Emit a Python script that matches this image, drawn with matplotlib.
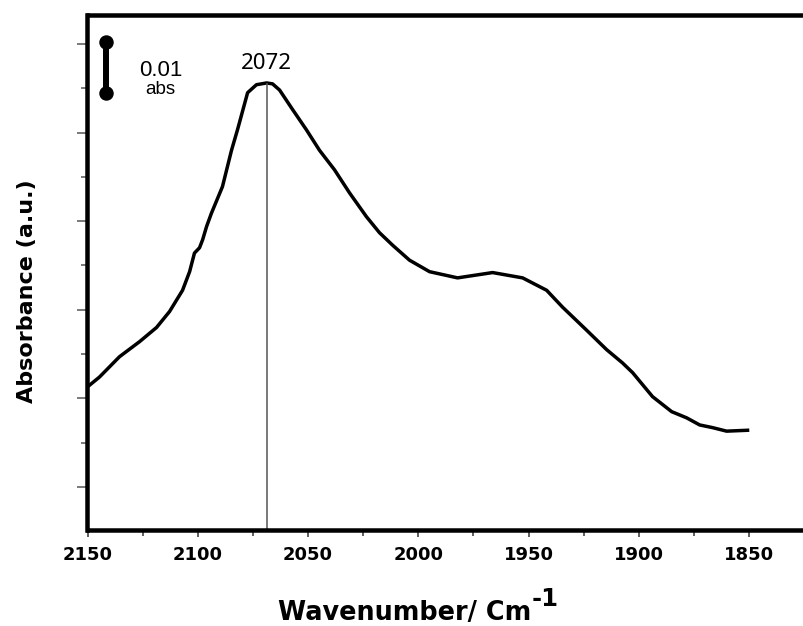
import numpy as np
import matplotlib
matplotlib.use("Agg")
import matplotlib.pyplot as plt
from matplotlib.ticker import MultipleLocator

wavenumber = [2150.0, 2144.6, 2135.5, 2126.4, 2118.7, 2112.8, 2106.9, 2103.7,
              2101.5, 2099.2, 2097.8, 2096.0, 2093.8, 2088.8, 2084.7, 2082.0,
              2077.4, 2073.4, 2068.8, 2066.1, 2062.9, 2057.0, 2050.7, 2044.8,
              2038.0, 2031.2, 2023.5, 2017.6, 2011.7, 2004.0, 1994.9, 1982.2,
              1966.3, 1952.7, 1941.8, 1934.6, 1923.7, 1914.6, 1907.4, 1902.8,
              1893.8, 1885.1, 1878.3, 1872.4, 1866.6, 1860.2, 1850.7]
absorbance = [1.13, 1.24, 1.47, 1.64, 1.80, 1.98, 2.22, 2.43,
              2.64, 2.70, 2.79, 2.94, 3.09, 3.39, 3.80, 4.03,
              4.45, 4.54, 4.56, 4.55, 4.48, 4.26, 4.03, 3.80,
              3.58, 3.32, 3.05, 2.87, 2.73, 2.56, 2.43, 2.36,
              2.42, 2.36, 2.22, 2.03, 1.77, 1.55, 1.40, 1.29,
              1.02, 0.85, 0.78, 0.70, 0.67, 0.63, 0.64]

peak_wn = 2068.8
peak_abs = 4.56
peak_label = "2072"

xticks = [2150, 2100, 2050, 2000, 1950, 1900, 1850]

fig = plt.figure(figsize=(8.04, 6.26), dpi=100)
# el marco llega hasta el borde derecho de la figura (sin eje derecho)
ax = fig.add_axes([87.5/804, 1-529.5/626, 716.5/804, 514.5/626])
ax.patch.set_edgecolor('none')

ax.plot(wavenumber, absorbance, color='k', lw=2.5, solid_joinstyle='round')
ax.vlines(peak_wn, -0.48, peak_abs, color='#555555', lw=1.1)
ax.annotate(peak_label, xy=(peak_wn, peak_abs), xytext=(0, 10),
            textcoords='offset points', ha='center', va='baseline',
            fontsize=16, family='Noto Sans')

# barra de escala 0.01 abs
ax.plot([0.026, 0.026], [0.9475, 0.848], transform=ax.transAxes, color='k',
        lw=4.3, marker='o', ms=9.4, clip_on=False)
ax.text(0.1025, 0.893, "0.01", transform=ax.transAxes, ha='center', va='center',
        fontsize=16, family='Liberation Sans')
ax.text(0.101, 0.856, "abs", transform=ax.transAxes, ha='center', va='center',
        fontsize=13.5, family='Liberation Sans')

ax.set_xlim(2150, 1825.1)
ax.set_ylim(-0.48, 5.327)
ax.set_xticks(xticks)
ax.set_xticklabels([str(v) for v in xticks], fontsize=13, fontweight='bold',
                   family='DejaVu Sans')
ax.xaxis.set_minor_locator(MultipleLocator(25))
ax.yaxis.set_major_locator(MultipleLocator(1))
ax.yaxis.set_minor_locator(MultipleLocator(0.5))
ax.set_yticklabels([])

ax.tick_params(axis='x', which='major', direction='out', length=5, width=1.1,
               color='#333333', pad=7, top=False)
ax.tick_params(axis='x', which='minor', direction='out', length=4.5, width=1.1,
               color='#333333', top=False)
ax.tick_params(axis='y', which='major', direction='out', length=7.5, width=1.1,
               color='#555555', right=False)
ax.tick_params(axis='y', which='minor', direction='out', length=4, width=1.1,
               color='#555555', right=False)

for s in ax.spines.values():
    s.set_linewidth(3.24)
    s.set_color('k')
ax.spines['right'].set_visible(False)

fig.text(278/804, 1-620/626, "Wavenumber/ Cm", fontsize=18.4, fontweight='bold',
         family='DejaVu Sans', ha='left', va='baseline')
fig.text(532/804, 1-606/626, "-1", fontsize=17.5, fontweight='bold',
         family='DejaVu Sans', ha='left', va='baseline')
fig.text(27/804, 1-291/626, "Absorbance (a.u.)", fontsize=16, fontweight='bold',
         family='DejaVu Sans', rotation=90, ha='center', va='center')

plt.savefig('out.png', dpi=100)
